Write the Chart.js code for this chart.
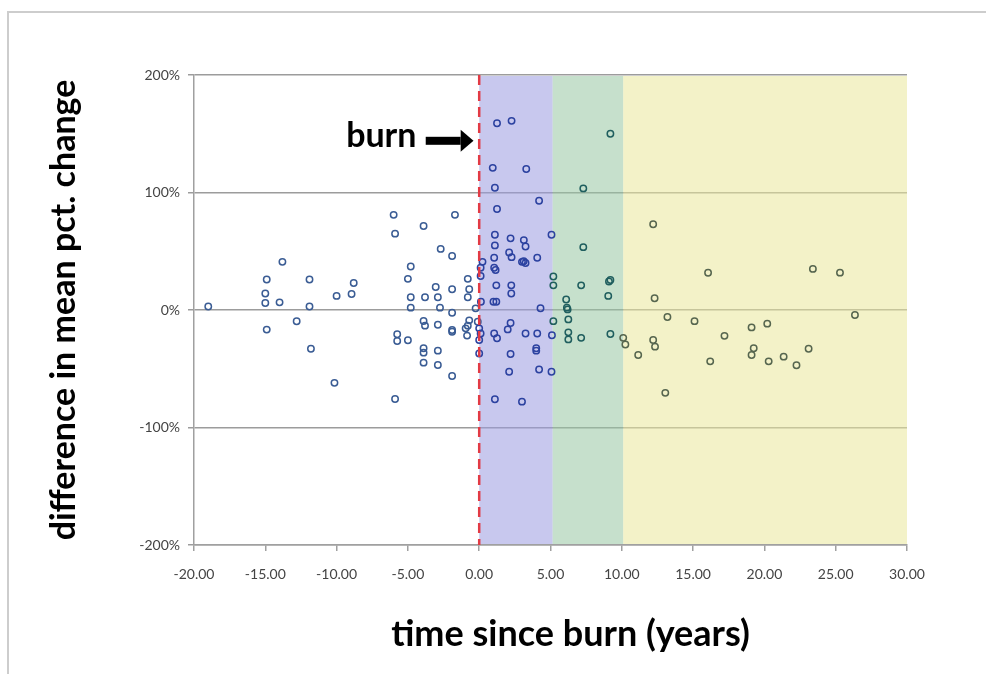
<!DOCTYPE html>
<html>
<head>
<meta charset="utf-8">
<script src="https://cdn.jsdelivr.net/npm/chart.js@4"></script>
<style>
  html, body { margin: 0; padding: 0; background: #fff; }
  #wrap { position: relative; width: 986px; height: 674px; overflow: hidden; }
  #frame { position: absolute; left: 7px; top: 11px; width: 1000px; height: 700px; border: 2px solid #cdcdcd; box-sizing: border-box; }
  canvas { position: absolute; left: 0; top: 0; }
</style>
</head>
<body>
<div id="wrap">
  <div id="frame"></div>
  <canvas id="burnChart" width="986" height="674"></canvas>
</div>
<script>
// years relative to the burn, and the matching difference in mean pct. change
const years = [
  -19.0, -13.8, -14.9, -11.9, -15.0, -15.0, -14.0, -11.9, -10.0, -8.95,
  -8.8, -12.8, -14.9, -11.8, -10.15, -6.0, -1.7, -3.9, -5.9, -2.7,
  -1.9, -4.8, -5.0, -0.8, -3.05, -1.9, -0.7, -0.8, -4.8, -3.8,
  -2.9, -4.8, -2.75, -0.25, -1.9, -3.9, -3.8, -2.9, -0.7, -0.8,
  -1.9, -1.9, -0.95, -0.85, -5.75, -5.75, -5.0, -3.9, -3.9, -2.9,
  -3.9, -2.9, -1.9, -5.9,
  0.23, 0.1, 0.1, 0.12, -0.1, 0.0, 0.1, 0.0, 0.0,
  1.25, 2.27, 0.95, 3.3, 1.1, 4.2, 1.25, 1.1, 1.1, 2.2,
  3.13, 3.25, 2.1, 2.27, 1.05, 3.0, 3.12, 3.25, 4.07, 1.05,
  1.15, 1.2, 2.25, 2.25, 1.0, 1.2, 4.3, 2.2, 2.0, 1.05,
  1.25, 3.25, 4.07, 4.0, 4.0, 2.2, 2.1, 4.2, 1.1, 3.0,
  5.07, 5.2, 5.2, 5.2, 5.1, 5.07,
  6.1, 6.15, 6.2, 6.25, 6.25, 6.25, 7.3, 7.3, 7.15, 7.15,
  9.2, 9.2, 9.1, 9.05, 9.2,
  10.1, 10.25, 11.15, 12.2, 12.3, 12.2, 12.33, 13.2, 13.05, 15.1,
  16.05, 16.2, 17.2, 19.1, 20.2, 19.25, 19.1, 20.3, 21.35, 22.25,
  23.1, 23.4, 25.3, 26.35
];
const pctDiff = [
  3, 41, 26, 26, 14, 6, 6.5, 3, 12, 13.6,
  23, -9.6, -16.7, -33, -62, 81, 81, 71.5, 65, 52,
  46, 37, 26.5, 26.5, 19.6, 17.6, 17.6, 10.8, 10.8, 10.8,
  10.8, 2, 2, 1.4, -2.3, -9.4, -13.3, -12.5, -8.8, -13.3,
  -17, -18.5, -15.6, -21.8, -20.7, -26.4, -25.8, -32.6, -36.3, -34.6,
  -44.8, -46.8, -56.2, -75.7,
  41, 36, 29, 7, -10, -15.6, -20, -25.5, -37,
  159, 161, 121, 120, 104, 93, 86, 64, 55, 61,
  59.5, 54, 49, 45, 44.5, 41, 41.5, 40, 44.5, 36,
  34, 21, 21, 14, 7, 7, 1.5, -11, -16.5, -20,
  -24, -20, -20, -32.6, -34.6, -37.5, -52.5, -50.7, -76, -78,
  64, 28.5, 21, -9.5, -21.5, -52.6,
  9, 2, 0.5, -8, -19, -25, 103.5, 53.5, 21, -23.7,
  150, 25.5, 24.3, 12, -20.4,
  -23.7, -29.3, -38.3, 73, 10, -25.5, -31.2, -6, -70.5, -9.5,
  31.7, -43.7, -22, -14.8, -11.6, -32.6, -38.3, -43.7, -39.7, -47,
  -33, 35, 31.8, -4.3
];

// shaded periods after the burn (years)
const bandEdges = [0, 5.15, 10.1, 30];
const bandColors = ['rgba(155,155,224,0.55)', 'rgba(151,199,162,0.55)', 'rgba(233,231,155,0.55)'];
const markerColors = ['#3a5c94', '#2c42a0', '#1f5e5e', '#56664f'];

function markerColor(ctx) {
  const v = years[ctx.dataIndex];
  if (v < bandEdges[0]) return markerColors[0];
  if (v < bandEdges[1]) return markerColors[1];
  if (v < bandEdges[2]) return markerColors[2];
  return markerColors[3];
}

const overlays = {
  id: 'overlays',
  beforeDatasetsDraw(chart) {
    const { ctx, chartArea: a, scales: { x } } = chart;
    ctx.save();
    for (let i = 0; i < bandColors.length; i++) {
      const x0 = x.getPixelForValue(bandEdges[i]);
      const x1 = x.getPixelForValue(bandEdges[i + 1]);
      ctx.fillStyle = bandColors[i];
      ctx.fillRect(x0, a.top + 1, x1 - x0, a.bottom - a.top - 2);
    }
    ctx.restore();
  },
  afterDatasetsDraw(chart) {
    const { ctx, chartArea: a, scales: { x, y } } = chart;
    ctx.save();
    // burn date
    const bx = x.getPixelForValue(0);
    ctx.strokeStyle = '#e23a44';
    ctx.lineWidth = 2.5;
    ctx.setLineDash([10, 6]);
    ctx.beginPath();
    ctx.moveTo(bx, a.top);
    ctx.lineTo(bx, a.bottom);
    ctx.stroke();
    ctx.setLineDash([]);

    // "burn" label with arrow
    ctx.fillStyle = '#000';
    ctx.font = 'bold 34px Lato';
    ctx.textAlign = 'right';
    ctx.textBaseline = 'alphabetic';
    ctx.fillText('burn', x.getPixelForValue(-4.4), y.getPixelForValue(139));
    const ay = y.getPixelForValue(144);
    const ax0 = x.getPixelForValue(-3.75);
    const ax1 = x.getPixelForValue(-1.3);
    const tip = x.getPixelForValue(-0.4);
    ctx.fillRect(ax0, ay - 4, ax1 - ax0, 8);
    ctx.beginPath();
    ctx.moveTo(ax1, ay - 11);
    ctx.lineTo(tip, ay);
    ctx.lineTo(ax1, ay + 11);
    ctx.closePath();
    ctx.fill();

    // x axis title
    ctx.font = 'bold 36px Lato';
    ctx.textAlign = 'center';
    ctx.textBaseline = 'middle';
    ctx.fillText('time since burn (years)', (a.left + a.right) / 2 + 20, a.bottom + 89);
    ctx.restore();
  }
};

new Chart(document.getElementById('burnChart'), {
  type: 'scatter',
  data: {
    datasets: [{
      data: years.map((v, i) => ({ x: v, y: pctDiff[i] })),
      pointRadius: 3.2,
      pointBorderWidth: 1.5,
      pointBackgroundColor: 'rgba(0,0,0,0)',
      pointBorderColor: markerColor,
      pointHoverRadius: 3.2
    }]
  },
  options: {
    responsive: false,
    devicePixelRatio: 1,
    animation: false,
    events: [],
    layout: { padding: { left: 0, top: 75, right: 79, bottom: 0 } },
    plugins: { legend: { display: false }, tooltip: { enabled: false } },
    scales: {
      x: {
        type: 'linear',
        min: -20,
        max: 30,
        afterFit: (s) => { s.height = 129; },
        ticks: {
          stepSize: 5,
          padding: 15,
          color: '#444',
          font: { family: 'Lato', size: 14 },
          callback: (v) => v.toFixed(2)
        },
        grid: { drawOnChartArea: false, drawTicks: true, tickLength: 6, color: '#a0a0a0', lineWidth: 1.5 },
        border: { display: true, color: '#a0a0a0', width: 1.5 }
      },
      y: {
        min: -200,
        max: 200,
        afterFit: (s) => { s.width = 194; },
        ticks: {
          stepSize: 100,
          padding: 8,
          color: '#444',
          font: { family: 'Lato', size: 14 },
          callback: (v) => v + '%'
        },
        grid: { color: '#9c9c9c', lineWidth: 1.5, tickLength: 6 },
        border: { display: true, color: '#a0a0a0', width: 1.5 },
        title: {
          display: true,
          text: 'difference in mean pct. change',
          color: '#000',
          font: { family: 'Lato', size: 34, weight: 'bold' },
          padding: { top: 44, bottom: 0 }
        }
      }
    }
  },
  plugins: [overlays]
});
</script>
</body>
</html>
